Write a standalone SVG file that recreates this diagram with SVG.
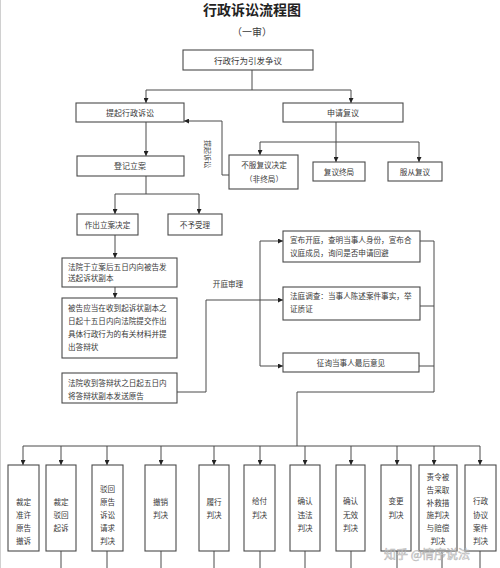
<svg xmlns="http://www.w3.org/2000/svg" width="500" height="568" viewBox="0 0 500 568">
<style>
text{font-family:"Noto Sans CJK SC","Noto Sans",sans-serif;fill:#3a3a3a;font-size:8px}
.box{fill:#fff;stroke:#4a4a4a;stroke-width:1.1}
.ln{fill:none;stroke:#4a4a4a;stroke-width:1}
.c{text-anchor:middle}
.s{font-size:7.6px}
</style>
<defs>
<marker id="ah" viewBox="0 0 10 10" refX="10" refY="5" markerWidth="5" markerHeight="5" orient="auto" markerUnits="userSpaceOnUse">
<path d="M0,0 L10,5 L0,10 z" fill="#222"/>
</marker>
</defs>
<rect width="500" height="568" fill="#fff"/>
<line x1="0.5" y1="0" x2="0.5" y2="568" stroke="#d0d0d0" stroke-width="1"/>
<text x="252" y="15" class="c" style="font-size:14px;font-weight:bold;fill:#222">行政诉讼流程图</text>
<text x="252" y="36" class="c" style="font-size:10px">（一审）</text>

<g id="connectors">
<path class="ln" d="M252,70 V90"/>
<path class="ln" d="M146,90 H351"/>
<path class="ln" d="M146,90 V103" marker-end="url(#ah)"/>
<path class="ln" d="M351,90 V103" marker-end="url(#ah)"/>
<path class="ln" d="M336,122 V142"/>
<path class="ln" d="M260,142 H419"/>
<path class="ln" d="M260,142 V155" marker-end="url(#ah)"/>
<path class="ln" d="M336,142 V162" marker-end="url(#ah)"/>
<path class="ln" d="M419,142 V162" marker-end="url(#ah)"/>
<path class="ln" d="M229,175 H222 V121 H184" marker-end="url(#ah)"/>
<path class="ln" d="M146,122 V156" marker-end="url(#ah)"/>
<path class="ln" d="M146,176 V194"/>
<path class="ln" d="M115,194 H199"/>
<path class="ln" d="M115,194 V214" marker-end="url(#ah)"/>
<path class="ln" d="M199,194 V214" marker-end="url(#ah)"/>
<path class="ln" d="M115,235 V258" marker-end="url(#ah)"/>
<path class="ln" d="M115,287 V298" marker-end="url(#ah)"/>
<path class="ln" d="M177,392 H206 V300 H283" marker-end="url(#ah)"/>
<path class="ln" d="M260,241 V366"/>
<path class="ln" d="M260,241 H283" marker-end="url(#ah)"/>
<path class="ln" d="M260,366 H283" marker-end="url(#ah)"/>
<path class="ln" d="M420,241 H434 M420,306 H434 M419,366 H434"/>
<path class="ln" d="M434,241 V392 H297 V446"/>
<path class="ln" d="M23,446 H480"/>
<g marker-end="url(#ah)">
<path class="ln" d="M23,446 V465"/><path class="ln" d="M61,446 V465"/><path class="ln" d="M107,446 V465"/><path class="ln" d="M161,446 V465"/><path class="ln" d="M214,446 V465"/><path class="ln" d="M260,446 V465"/><path class="ln" d="M305,446 V465"/><path class="ln" d="M351,446 V465"/><path class="ln" d="M397,446 V465"/><path class="ln" d="M434,446 V465"/><path class="ln" d="M480,446 V465"/>
</g>
<path class="ln" d="M61,551 V568 M107,551 V568 M161,551 V568 M214,551 V568 M260,551 V568 M305,551 V568 M351,551 V568 M397,551 V568 M442,551 V568 M480,551 V568"/>
<text x="207" y="154" class="c" style="font-size:7px" transform="rotate(90 207 154)" dy="2.5">提起诉讼</text>
<text x="228" y="287" class="c s">开庭审理</text>
</g>

<g id="n-dispute"><rect class="box" x="183" y="50" width="130" height="20"/><text x="248" y="64" class="c" style="font-size:8.5px">行政行为引发争议</text></g>
<g id="n-sue"><rect class="box" x="76" y="103" width="108" height="19"/><text x="130" y="116" class="c">提起行政诉讼</text></g>
<g id="n-review"><rect class="box" x="283" y="103" width="120" height="19"/><text x="343" y="116" class="c">申请复议</text></g>
<g id="n-notaccept"><rect class="box" x="229" y="155" width="69" height="34"/><text x="264" y="168" class="c s">不服复议决定</text><text x="264" y="182" class="c s">（非终局）</text></g>
<g id="n-final"><rect class="box" x="313" y="162" width="52" height="19"/><text x="339" y="175" class="c s">复议终局</text></g>
<g id="n-obey"><rect class="box" x="388" y="162" width="54" height="19"/><text x="415" y="175" class="c s">服从复议</text></g>
<g id="n-register"><rect class="box" x="77" y="156" width="107" height="20"/><text x="130" y="169" class="c">登记立案</text></g>
<g id="n-accept"><rect class="box" x="77" y="214" width="61" height="21"/><text x="107.5" y="228" class="c s">作出立案决定</text></g>
<g id="n-reject"><rect class="box" x="168" y="214" width="54" height="21"/><text x="195" y="228" class="c s">不予受理</text></g>
<g id="n-send"><rect class="box" x="62" y="258" width="115" height="29"/><text x="68" y="270" class="s">法院于立案后五日内向被告发</text><text x="68" y="281" class="s">送起诉状副本</text></g>
<g id="n-defend"><rect class="box" x="62" y="298" width="115" height="60"/><text x="68" y="311" class="s">被告应当在收到起诉状副本之</text><text x="68" y="324" class="s">日起十五日内向法院提交作出</text><text x="68" y="337" class="s">具体行政行为的有关材料并提</text><text x="68" y="350" class="s">出答辩状</text></g>
<g id="n-reply"><rect class="box" x="62" y="373" width="115" height="30"/><text x="68" y="386" class="s">法院收到答辩状之日起五日内</text><text x="68" y="399" class="s">将答辩状副本发送原告</text></g>
<g id="n-open"><rect class="box" x="283" y="231" width="137" height="31"/><text x="290" y="243" class="s">宣布开庭，查明当事人身份，宣布合</text><text x="290" y="256" class="s">议庭成员，询问是否申请回避</text></g>
<g id="n-investigate"><rect class="box" x="283" y="287" width="137" height="33"/><text x="290" y="299" class="s">法庭调查：当事人陈述案件事实，举</text><text x="290" y="312" class="s">证质证</text></g>
<g id="n-final-opinion"><rect class="box" x="283" y="353" width="136" height="19"/><text x="351" y="366" class="c s">征询当事人最后意见</text></g>

<g id="r1"><rect class="box" x="8" y="465" width="31" height="86"/><text class="c s"><tspan x="23.5" y="505">裁定</tspan><tspan x="23.5" y="518">准许</tspan><tspan x="23.5" y="531">原告</tspan><tspan x="23.5" y="544">撤诉</tspan></text></g>
<g id="r2"><rect class="box" x="46" y="465" width="30" height="86"/><text class="c s"><tspan x="61" y="505">裁定</tspan><tspan x="61" y="518">驳回</tspan><tspan x="61" y="531">起诉</tspan></text></g>
<g id="r3"><rect class="box" x="92" y="465" width="31" height="86"/><text class="c s"><tspan x="107.5" y="492">驳回</tspan><tspan x="107.5" y="505">原告</tspan><tspan x="107.5" y="518">诉讼</tspan><tspan x="107.5" y="531">请求</tspan><tspan x="107.5" y="544">判决</tspan></text></g>
<g id="r4"><rect class="box" x="145" y="465" width="31" height="86"/><text class="c s"><tspan x="160.5" y="505">撤销</tspan><tspan x="160.5" y="518">判决</tspan></text></g>
<g id="r5"><rect class="box" x="199" y="465" width="30" height="86"/><text class="c s"><tspan x="214" y="505">履行</tspan><tspan x="214" y="518">判决</tspan></text></g>
<g id="r6"><rect class="box" x="244" y="465" width="31" height="86"/><text class="c s"><tspan x="259.5" y="504">给付</tspan><tspan x="259.5" y="518">判决</tspan></text></g>
<g id="r7"><rect class="box" x="290" y="465" width="30" height="86"/><text class="c s"><tspan x="305" y="504">确认</tspan><tspan x="305" y="518">违法</tspan><tspan x="305" y="531">判决</tspan></text></g>
<g id="r8"><rect class="box" x="336" y="465" width="29" height="86"/><text class="c s"><tspan x="350.5" y="504">确认</tspan><tspan x="350.5" y="518">无效</tspan><tspan x="350.5" y="531">判决</tspan></text></g>
<g id="r9"><rect class="box" x="381" y="465" width="30" height="86"/><text class="c s"><tspan x="396" y="504">变更</tspan><tspan x="396" y="518">判决</tspan></text></g>
<g id="r10"><rect class="box" x="419" y="465" width="38" height="86"/><text class="c s"><tspan x="438" y="480">责令被</tspan><tspan x="438" y="493">告采取</tspan><tspan x="438" y="506">补救措</tspan><tspan x="438" y="518">施判决</tspan><tspan x="438" y="531">与赔偿</tspan><tspan x="438" y="544">判决</tspan></text></g>
<g id="r11"><rect class="box" x="465" y="465" width="31" height="86"/><text class="c s"><tspan x="480.5" y="504">行政</tspan><tspan x="480.5" y="518">协议</tspan><tspan x="480.5" y="531">案件</tspan><tspan x="480.5" y="544">判决</tspan></text></g>

<text x="427" y="559" class="c" style="font-size:12px;fill:#fff;fill-opacity:0.55;stroke:#9a9a9a;stroke-width:0.6;stroke-opacity:0.7">知乎 @情序说法</text>
</svg>
